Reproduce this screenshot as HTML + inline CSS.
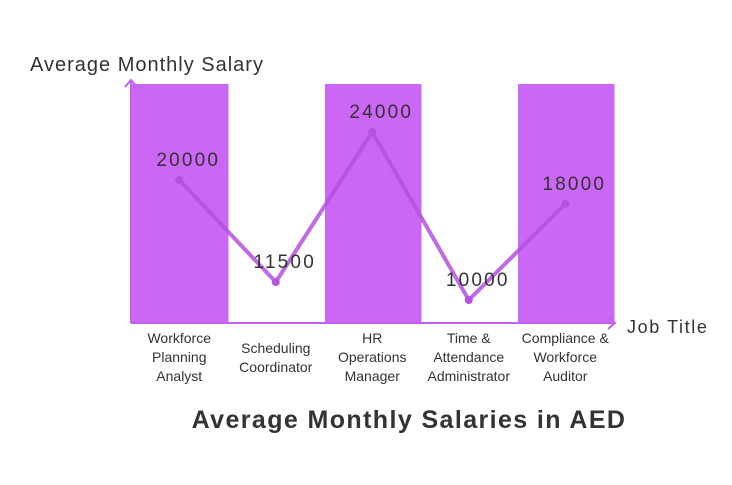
<!DOCTYPE html>
<html><head><meta charset="utf-8"><style>
body{margin:0;background:#fff;width:732px;height:480px;overflow:hidden}
svg{font-family:"Comic Sans MS","Liberation Sans",sans-serif}
</style></head><body>
<svg id="c" width="732" height="480">
<g id="bands"></g>
<line x1="131" y1="323" x2="131" y2="80" stroke="#c55ff0" stroke-width="2"/>
<path d="M125 87 L131 80 L137 87" fill="none" stroke="#c55ff0" stroke-width="2"/>
<line x1="131" y1="323" x2="615" y2="323" stroke="#c55ff0" stroke-width="2"/>
<path d="M608 317 L615 323 L608 329" fill="none" stroke="#c55ff0" stroke-width="2"/>
<text x="30" y="71" font-size="20" letter-spacing="1" fill="#333">Average Monthly Salary</text>
<text x="627" y="333" font-size="18" letter-spacing="1.6" fill="#333">Job Title</text>
<g id="marks"></g>
<text x="409" y="428" font-size="25" letter-spacing="1.4" font-weight="bold" fill="#333" text-anchor="middle">Average Monthly Salaries in AED</text>
</svg>
<script>
const categories=[["Workforce","Planning","Analyst"],["Scheduling","Coordinator"],["HR","Operations","Manager"],["Time &","Attendance","Administrator"],["Compliance &","Workforce","Auditor"]];
const values=[20000,11500,24000,10000,18000];
const labels=["20000","11500","24000","10000","18000"];
const NS="http://www.w3.org/2000/svg";
const x0=131,colW=96.5;
const xc=i=>x0+colW*i+colW/2;
const y=v=>132+(24000-v)*0.012;
const bands=document.getElementById('bands'),marks=document.getElementById('marks');
function mk(t,a,p){const e=document.createElementNS(NS,t);for(const k in a)e.setAttribute(k,a[k]);p.appendChild(e);return e;}
categories.forEach((c,i)=>{
  if(i%2===0){const r=mk('rect',{x:x0+colW*i+1,y:84,width:colW,height:239,fill:"#cc66f5"},bands);
  
  }
  const sy=c.length===2?353:343;
  c.forEach((s,j)=>{const t=mk('text',{x:xc(i),y:sy+j*19,"font-size":14,fill:"#333","text-anchor":"middle"},marks);t.textContent=s;
  
  });
});
const pl=mk('polyline',{points:values.map((v,i)=>xc(i)+","+y(v)).join(" "),fill:"none",stroke:"#b550e0","stroke-opacity":0.85,"stroke-width":4,"stroke-linejoin":"round"},marks);


values.forEach((v,i)=>{
  const c=mk('circle',{cx:xc(i),cy:y(v),r:4,fill:"#b550e0"},marks);
  
  
  const t=mk('text',{x:xc(i)+9,y:y(v)-14,"font-size":19,"letter-spacing":2.2,fill:"#333","text-anchor":"middle"},marks);t.textContent=labels[i];
  
  
});
</script>
</body></html>
